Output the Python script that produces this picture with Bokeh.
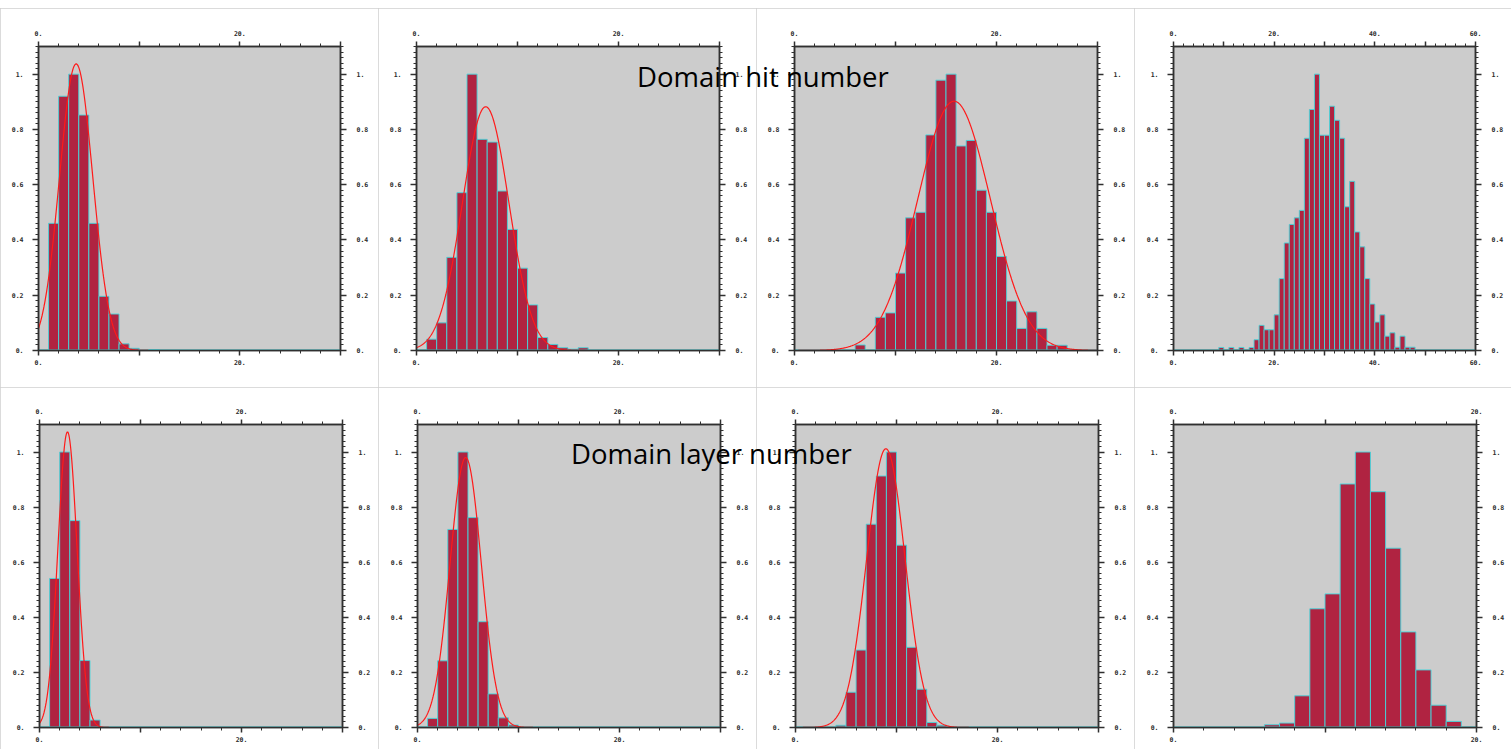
import numpy as np
from bokeh.plotting import figure
from bokeh.layouts import column, row
from bokeh.models import FixedTicker, Range1d, LinearAxis, Div, Spacer
from bokeh.embed import file_html
from bokeh.resources import INLINE

# ---------------------------------------------------------------------------
# Normalised histograms (unit-width bins), first bin left edge, Gaussian fits
# ---------------------------------------------------------------------------
# Domain hit number
hit_a_start = 1
hit_a_heights = [0.46, 0.92, 1.0, 0.852, 0.46, 0.196, 0.132, 0.024, 0.008, 0.0, 0.003]
hit_a_fit = (1.037, 3.74, 1.65)          # amplitude, mean, sigma

hit_b_start = 1
hit_b_heights = [0.041, 0.10, 0.337, 0.571, 1.0, 0.764, 0.754, 0.577, 0.438,
                 0.298, 0.165, 0.047, 0.022, 0.010, 0.005, 0.010]
hit_b_fit = (0.882, 6.85, 2.3)

hit_c_start = 6
hit_c_heights = [0.02, 0.0, 0.12, 0.136, 0.28, 0.48, 0.50, 0.78, 0.978, 1.0,
                 0.74, 0.76, 0.58, 0.50, 0.34, 0.179, 0.08, 0.14, 0.08, 0.019, 0.019]
hit_c_fit = (0.902, 15.8, 3.6)

hit_d_start = 9
hit_d_heights = [0.011, 0.0, 0.011, 0.0, 0.011, 0.0, 0.011, 0.039, 0.091, 0.075,
                 0.075, 0.129, 0.26, 0.389, 0.456, 0.48, 0.507, 0.768, 0.872, 1.0,
                 0.779, 0.779, 0.884, 0.833, 0.768, 0.52, 0.612, 0.429, 0.375, 0.26,
                 0.168, 0.103, 0.129, 0.052, 0.064, 0.012, 0.052, 0.012, 0.012]
hit_d_fit = None

# Domain layer number
layer_a_start = 1
layer_a_heights = [0.541, 1.0, 0.751, 0.243, 0.027]
layer_a_fit = (1.073, 2.77, 0.95)

layer_b_start = 1
layer_b_heights = [0.033, 0.242, 0.719, 1.0, 0.762, 0.384, 0.122, 0.035, 0.009]
layer_b_fit = (0.98, 4.77, 1.55)

layer_c_start = 4
layer_c_heights = [0.008, 0.128, 0.281, 0.738, 0.913, 1.0, 0.662, 0.291, 0.139, 0.018, 0.008]
layer_c_fit = (1.012, 8.95, 1.9)

layer_d_start = 6
layer_d_heights = [0.010, 0.016, 0.115, 0.431, 0.485, 0.884, 1.0, 0.856, 0.651,
                   0.347, 0.209, 0.081, 0.022]
layer_d_fit = None

# Axis extents and tick labels
x_max_short = 30
x_max_long = 60
x_max_narrow = 20
x_ticks_short = [0, 10, 20, 30]
x_labels_short = ["0.", "", "20.", ""]
x_ticks_long = [0, 10, 20, 30, 40, 50, 60]
x_labels_long = ["0.", "", "20.", "", "40.", "", "60."]
x_ticks_narrow = [0, 10, 20]
x_labels_narrow = ["0.", "", "20."]
y_max = 1.1
y_ticks = [0, 0.2, 0.4, 0.6, 0.8, 1.0]
y_labels = ["0.", "0.2", "0.4", "0.6", "0.8", "1."]

title_hit = "Domain hit number"
title_layer = "Domain layer number"

# ---------------------------------------------------------------------------
BAR = "#b02341"
EDGE = "#45d6dc"
FIT = "#ff1a1a"
FRAME = "#303030"
PANEL_EDGE = "#cfcfcf"
TICK_FONT = "DejaVu Sans Mono"


def panel(start, heights, fit, x_max, x_ticks, x_labels, w, h, bl, br, bt, bb):
    p = figure(width=w, height=h,
               x_range=Range1d(0, x_max), y_range=Range1d(0, y_max),
               output_backend="svg", toolbar_location=None,
               min_border_left=bl, min_border_right=br,
               min_border_top=bt, min_border_bottom=bb,
               styles={"outline": f"1px solid {PANEL_EDGE}", "outline-offset": "-1px"})
    p.grid.visible = False
    p.background_fill_color = "#cccccc"
    p.border_fill_color = "white"
    p.outline_line_color = FRAME
    p.outline_line_width = 1.5

    p.add_layout(LinearAxis(), "above")
    p.add_layout(LinearAxis(), "right")

    x_minor = list(np.arange(0, x_max + 0.001, 2))
    y_minor = list(np.round(np.arange(0, y_max + 0.0001, 0.02), 4))
    for ax in p.xaxis:
        ax.ticker = FixedTicker(ticks=x_ticks, minor_ticks=x_minor)
        ax.major_label_overrides = dict(zip(x_ticks, x_labels))
        ax.major_tick_out = 5
        ax.minor_tick_out = 3
    for ax in p.yaxis:
        ax.ticker = FixedTicker(ticks=y_ticks, minor_ticks=y_minor)
        ax.major_label_overrides = dict(zip(y_ticks, y_labels))
        ax.major_tick_out = 6
        ax.minor_tick_out = 3
    for ax in list(p.xaxis) + list(p.yaxis):
        ax.major_tick_in = 0
        ax.minor_tick_in = 0
        ax.axis_line_color = FRAME
        ax.axis_line_width = 1.5
        ax.major_tick_line_color = FRAME
        ax.major_tick_line_width = 1.5
        ax.minor_tick_line_color = FRAME
        ax.minor_tick_line_width = 1
        ax.major_label_text_font = TICK_FONT
        ax.major_label_text_font_size = "6.5px"
        ax.major_label_text_font_style = "bold"
        ax.major_label_text_color = "#2a2a2a"
    p.xaxis[0].major_label_standoff = 6   # below
    p.xaxis[1].major_label_standoff = 4   # above
    p.yaxis[0].major_label_standoff = 9   # left
    p.yaxis[1].major_label_standoff = 10  # right

    lefts = [start + i for i in range(len(heights))]
    rights = [x + 1 for x in lefts]
    p.quad(left=lefts, right=rights, bottom=0, top=heights,
           fill_color=BAR, line_color=EDGE, line_width=1, line_alpha=0.9)
    p.line([0, x_max], [0, 0], line_color=EDGE, line_width=2)
    if fit is not None:
        amp, mu, sig = fit
        xs = np.linspace(0, x_max, 600)
        p.line(xs, amp * np.exp(-(xs - mu) ** 2 / (2 * sig ** 2)),
               line_color=FIT, line_width=1.2)
    return p


top_h, bot_h = 379, 362
p1 = panel(hit_a_start, hit_a_heights, hit_a_fit, x_max_short, x_ticks_short, x_labels_short,
           378, top_h, 38, 38, 38, 37)
p2 = panel(hit_b_start, hit_b_heights, hit_b_fit, x_max_short, x_ticks_short, x_labels_short,
           378, top_h, 38, 37, 38, 37)
p3 = panel(hit_c_start, hit_c_heights, hit_c_fit, x_max_short, x_ticks_short, x_labels_short,
           378, top_h, 38, 37, 38, 37)
p4 = panel(hit_d_start, hit_d_heights, hit_d_fit, x_max_long, x_ticks_long, x_labels_long,
           377, top_h, 39, 36, 38, 37)
p5 = panel(layer_a_start, layer_a_heights, layer_a_fit, x_max_short, x_ticks_short, x_labels_short,
           378, bot_h, 39, 36, 37, 22)
p6 = panel(layer_b_start, layer_b_heights, layer_b_fit, x_max_short, x_ticks_short, x_labels_short,
           378, bot_h, 39, 36, 37, 22)
p7 = panel(layer_c_start, layer_c_heights, layer_c_fit, x_max_short, x_ticks_short, x_labels_short,
           378, bot_h, 39, 36, 37, 22)
p8 = panel(layer_d_start, layer_d_heights, layer_d_fit, x_max_narrow, x_ticks_narrow, x_labels_narrow,
           377, bot_h, 39, 35, 37, 22)

title_style = {"position": "absolute", "font-family": "Open Sans", "font-size": "27.5px",
               "line-height": "1", "color": "black", "white-space": "nowrap", "z-index": "10"}
d1 = Div(text=title_hit, styles=dict(title_style, left="632px", top="58px"))
d2 = Div(text=title_layer, styles=dict(title_style, left="566px", top="435px"))

layout = column(Spacer(width=1511, height=8),
                row(p1, p2, p3, p4),
                row(p5, p6, p7, p8),
                d1, d2)

with open("out.html", "w") as f:
    f.write(file_html(layout, INLINE, title="Domain histograms"))
